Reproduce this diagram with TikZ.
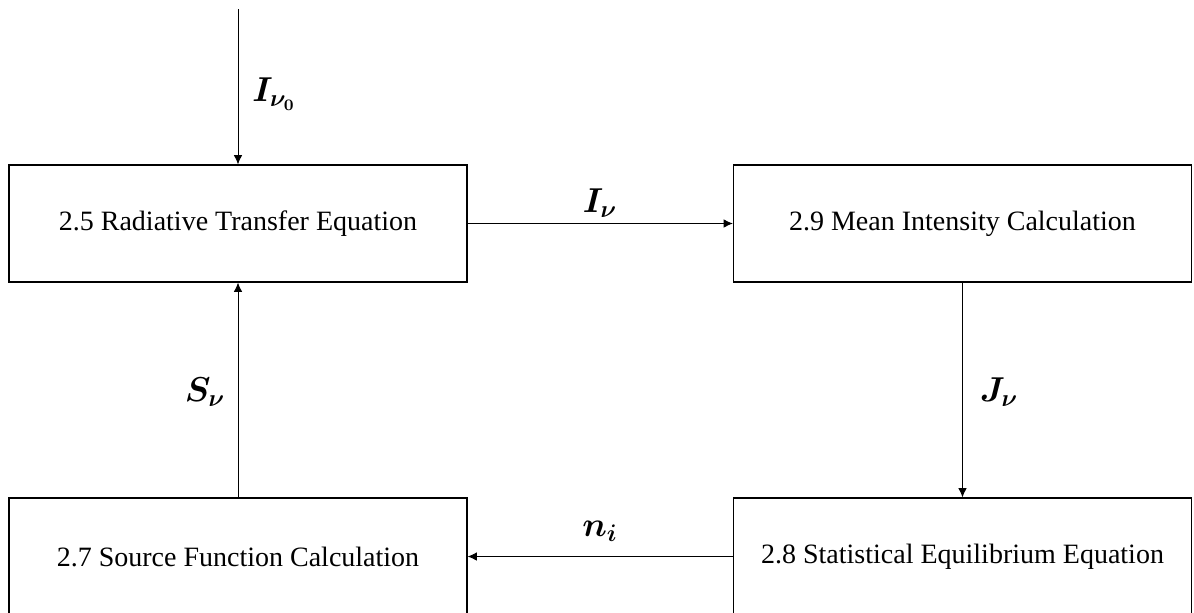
\documentclass[tikz,border=0pt]{standalone}
\usepackage{amsmath,amssymb,bm}
\usepackage{fontspec}
\setmainfont{Liberation Serif}
\usepackage{tikz}
\usetikzlibrary{arrows.meta,positioning}
\newcommand{\flowlabel}[1]{\fontsize{17}{19}\selectfont$\bm{#1}$}

\begin{document}
\begin{tikzpicture}[
  x=0.5pt, y=-0.5pt,
  font=\fontsize{14}{16}\selectfont,
  stage/.style={draw, line width=0.6pt, minimum width=229pt, minimum height=58.5pt, align=center, inner sep=0pt},
  qty/.style={inner sep=0pt},
  arr/.style={-{Latex[length=4.6pt,width=4.2pt]}, line width=0.45pt}
]
\useasboundingbox[fill=white] (0,0) rectangle (1194,612);

\node[stage] (rte) at (238,223.5) {2.5 Radiative Transfer Equation};
\node[stage] (mic) at (962.5,223.5) {2.9 Mean Intensity Calculation};
\node[stage] (see) at (962.5,556.5) {2.8 Statistical Equilibrium Equation};
\node[stage] (sfc) at (238,556.5) {2.7 Source Function Calculation};
\coordinate (inflow) at (238,9);

\draw[arr] (inflow) -- (rte.north);
\draw[arr] (rte.east) -- (mic.west);
\draw[arr] (mic.south) -- (see.north);
\draw[arr] (see.west) -- (sfc.east);
\draw[arr] (sfc.north) -- (rte.south);

\node[qty] (lin) at (274,94) {\flowlabel{I_{\nu_0}}};
\node[qty] (lout) at (600,203) {\flowlabel{I_{\nu}}};
\node[qty] (lmean) at (999,392) {\flowlabel{J_{\nu}}};
\node[qty] (lpop) at (600,531) {\flowlabel{n_{i}}};
\node[qty] (lsrc) at (205,392) {\flowlabel{S_{\nu}}};
\end{tikzpicture}
\end{document}
